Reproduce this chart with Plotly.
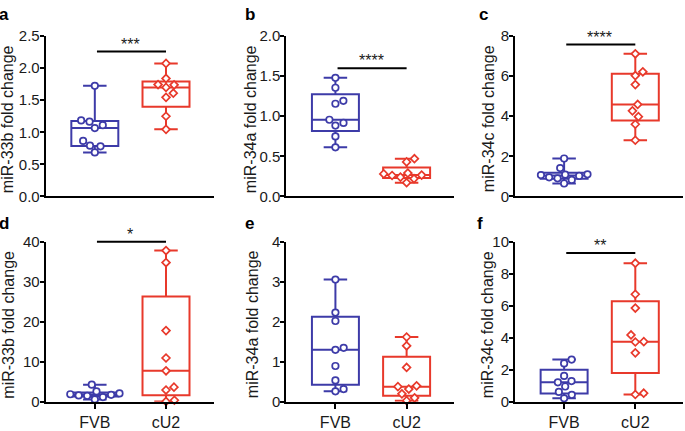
import numpy as np
import plotly.graph_objects as go

# ---------------- data ----------------
groups = ["FVB", "cU2"]
panel_letters = ["a", "b", "c", "d", "e", "f"]
y_titles = ["miR-33b fold change", "miR-34a fold change", "miR-34c fold change",
            "miR-33b fold change", "miR-34a fold change", "miR-34c fold change"]
y_max = [2.5, 2.0, 8, 40, 4, 10]
y_dtick = [0.5, 0.5, 2, 10, 1, 2]
y_tickformat = [".1f", ".1f", "d", "d", "d", "d"]

a_fvb = [1.725, 1.185, 1.165, 1.11, 1.065, 0.865, 0.79, 0.78, 0.685]
a_cu2 = [2.075, 1.84, 1.745, 1.74, 1.70, 1.61, 1.545, 1.25, 1.045]
b_fvb = [1.48, 1.356, 1.192, 1.156, 0.956, 0.916, 0.884, 0.748, 0.612]
b_cu2 = [0.47, 0.43, 0.29, 0.28, 0.265, 0.26, 0.24, 0.22, 0.17]
c_fvb = [1.89, 1.41, 1.10, 1.08, 1.06, 1.02, 0.95, 0.90, 0.82, 0.64]
c_cu2 = [7.12, 6.22, 6.03, 5.58, 4.59, 4.27, 3.98, 3.60, 2.80]
d_fvb = [4.3, 2.6, 2.1, 1.9, 1.75, 1.6, 1.5, 1.2, 0.6]
d_cu2 = [37.8, 34.8, 17.8, 10.96, 7.76, 3.68, 2.96, 0.4, 0.1]
e_fvb = [3.056, 2.23, 2.02, 1.35, 1.30, 0.896, 0.536, 0.32, 0.264]
e_cu2 = [1.62, 1.40, 0.86, 0.40, 0.38, 0.32, 0.20, 0.10, 0.03]
f_fvb = [2.64, 2.40, 1.62, 1.30, 1.22, 0.96, 0.62, 0.44, 0.22]
f_cu2 = [8.66, 6.72, 5.86, 4.18, 3.76, 3.74, 3.06, 0.54, 0.46]

panel_data = [(a_fvb, a_cu2), (b_fvb, b_cu2), (c_fvb, c_cu2),
              (d_fvb, d_cu2), (e_fvb, e_cu2), (f_fvb, f_cu2)]

sig_labels = ["***", "****", "****", "*", "", "**"]
sig_heights = [2.26, 1.60, 7.58, 40.0, None, 9.3]

# ---------------- style / layout ----------------
W, H = 685, 431
BLUE = "#3D3BA8"
RED = "#E8392B"
colors = [BLUE, RED]
symbols = ["circle", "diamond"]
FONT = "Arial, Liberation Sans, sans-serif"

col_x0 = [45.7, 286.3, 515.0]
AX_W = 168.0
row_top = [28.3, 242.3]
row_bot = [195.0, 409.0]
x_range = [-0.69, 1.67]
title_x_px = [7, 250, 488, 9, 252.5, 487.5]
letter_x_px = [-3, 243, 477, -3, 243, 475]
letter_y_px = [13.5, 13.5, 13.5, 231, 231, 231]
DIAM = 8.5


def swarm(values, ppu_y, ppu_x, diam):
    vals = np.asarray(values, dtype=float)
    order = np.argsort(vals, kind="stable")
    placed = []
    offs = np.zeros(len(vals))
    for i in order:
        y = vals[i] * ppu_y
        intervals = []
        for xp, yp in placed:
            dy = abs(y - yp)
            if dy < diam:
                dx = np.sqrt(diam ** 2 - dy ** 2)
                intervals.append((xp - dx, xp + dx))
        cands = [0.0] + [e for iv in intervals for e in iv]
        cands.sort(key=lambda c: (round(abs(c), 6), -c))
        x = 0.0
        for c in cands:
            if all(not (lo + 1e-6 < c < hi - 1e-6) for lo, hi in intervals):
                x = c
                break
        placed.append((x, y))
        offs[i] = x / ppu_x
    return offs


fig = go.Figure()
annotations = []
shapes = []
layout_axes = {}

for p in range(6):
    r, c = divmod(p, 3)
    sfx = "" if p == 0 else str(p + 1)
    xa, ya = "x" + sfx, "y" + sfx
    x0 = col_x0[c]
    top, bot = row_top[r], row_bot[r]
    ppu_y = (bot - top) / y_max[p]
    ppu_x = AX_W / (x_range[1] - x_range[0])

    for g in range(2):
        vals = np.asarray(panel_data[p][g], dtype=float)
        q1, med, q3 = np.percentile(vals, [25, 50, 75], method="weibull")
        fig.add_trace(go.Box(
            x=[g], q1=[q1], median=[med], q3=[q3],
            lowerfence=[vals.min()], upperfence=[vals.max()],
            width=0.66, whiskerwidth=0.5, boxpoints=False,
            line=dict(color=colors[g], width=2),
            fillcolor="rgba(255,255,255,0)",
            xaxis=xa, yaxis=ya, showlegend=False, hoverinfo="skip"))
        offs = swarm(vals, ppu_y, ppu_x, DIAM)
        fig.add_trace(go.Scatter(
            x=g + offs, y=vals, mode="markers",
            marker=dict(symbol=symbols[g], size=6.5 if g == 0 else 6,
                        color="white", line=dict(color=colors[g], width=1.7)),
            cliponaxis=False, xaxis=xa, yaxis=ya, showlegend=False))

    dom_x = [x0 / W, (x0 + AX_W) / W]
    dom_y = [1 - bot / H, 1 - top / H]
    layout_axes["xaxis" + sfx] = dict(
        domain=dom_x, anchor=ya, range=x_range, tickvals=[0, 1], ticktext=groups,
        showticklabels=(r == 1), ticks="outside" if r == 1 else "",
        ticklen=5, tickwidth=1.5, tickcolor="black",
        showline=True, linecolor="black", linewidth=2, showgrid=False, zeroline=False,
        tickfont=dict(family=FONT, size=16, color="#1a1a1a"), fixedrange=True)
    layout_axes["yaxis" + sfx] = dict(
        domain=dom_y, anchor=xa, range=[0, y_max[p]], dtick=y_dtick[p], tick0=0,
        tickformat=y_tickformat[p], ticks="outside", ticklen=4, tickwidth=1.5,
        ticklabelstandoff=-3,
        tickcolor="black", showline=True, linecolor="black", linewidth=2,
        showgrid=False, zeroline=False,
        tickfont=dict(family=FONT, size=15, color="#1a1a1a"), fixedrange=True)

    # axis title
    annotations.append(dict(
        text=y_titles[p], xref="paper", yref="paper",
        x=title_x_px[p] / W, y=1 - ((top + bot) / 2 + 3) / H,
        xanchor="center", yanchor="middle", textangle=-90, showarrow=False,
        font=dict(family=FONT, size=16, color="#1a1a1a")))
    # panel letter
    annotations.append(dict(
        text="<b>" + panel_letters[p] + "</b>", xref="paper", yref="paper",
        x=letter_x_px[p] / W, y=1 - (letter_y_px[p] + 4) / H,
        xanchor="left", yanchor="bottom", showarrow=False,
        font=dict(family=FONT, size=17, color="black")))
    # significance (y given as fraction of the y-axis domain so the bar is not clipped)
    if sig_heights[p] is not None:
        frac = sig_heights[p] / y_max[p]
        shapes.append(dict(type="line", xref=xa, yref=ya + " domain", x0=0.03, x1=1.0,
                           y0=frac, y1=frac,
                           line=dict(color="black", width=2)))
        annotations.append(dict(
            text=sig_labels[p], xref=xa, yref=ya, x=0.5, y=sig_heights[p],
            xanchor="center", yanchor="bottom", yshift=-3, showarrow=False,
            font=dict(family=FONT, size=16, color="#1a1a1a")))

fig.update_layout(
    width=W, height=H, margin=dict(l=0, r=0, t=0, b=0),
    paper_bgcolor="white", plot_bgcolor="white",
    annotations=annotations, shapes=shapes, **layout_axes)

fig.write_html("out.html", config={"displayModeBar": False},
               post_script="document.body.style.margin='0';"
                           "document.body.style.overflow='hidden';")
